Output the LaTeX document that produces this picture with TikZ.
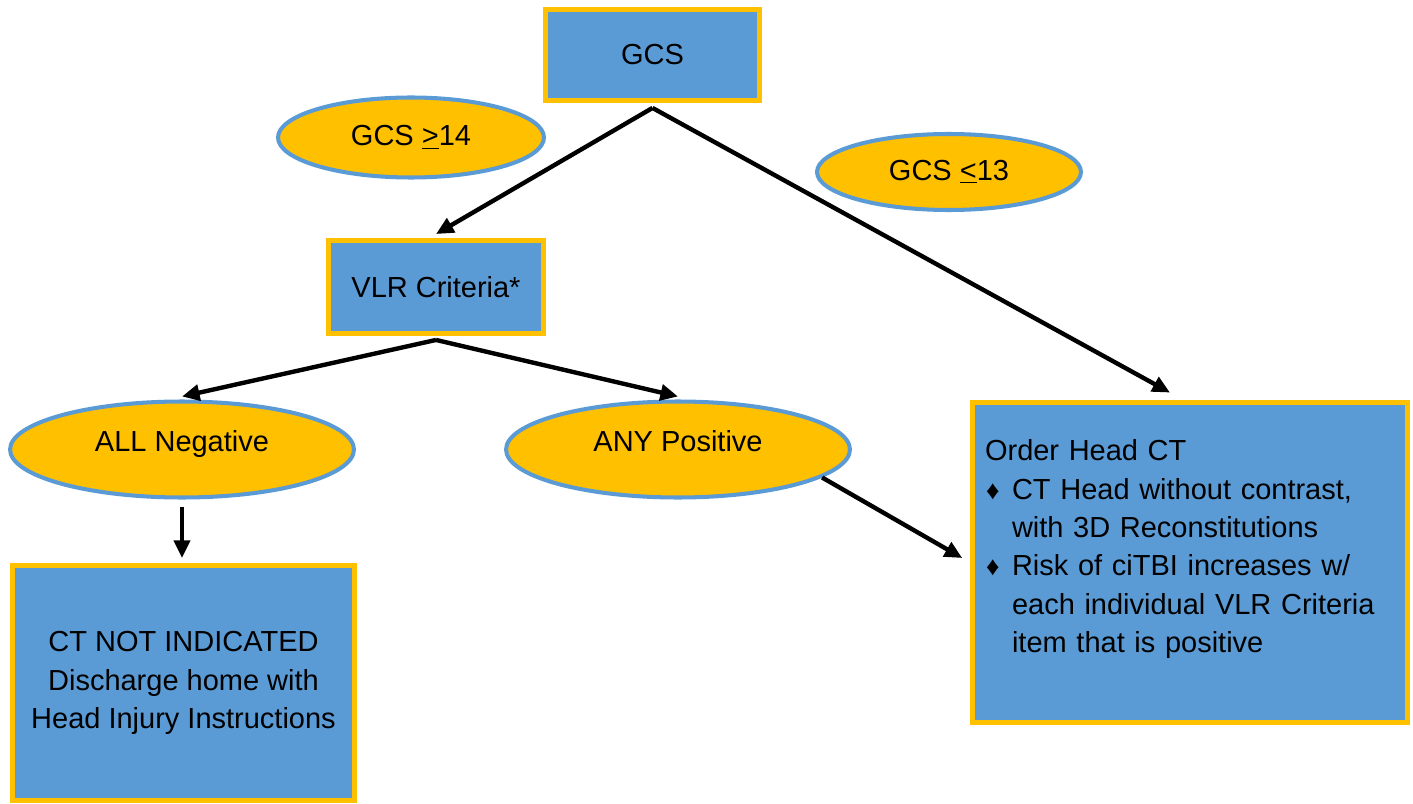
\documentclass[tikz,border=0pt]{standalone}
\usepackage{fontspec}
\setmainfont{Liberation Sans}
\usetikzlibrary{arrows.meta,shapes.geometric}
\definecolor{boxblue}{RGB}{91,155,213}
\definecolor{boxgold}{RGB}{255,192,0}
\newcommand{\orderbullet}{\makebox[0.54cm][l]{\hspace{0.02cm}{\fontsize{15}{15}\selectfont ♦}}}

\begin{document}
\begin{tikzpicture}[x=0.02cm,y=-0.02cm,
        criterion/.style={
        rectangle, draw=boxgold, line width=2.8pt, fill=boxblue,
        font=\fontsize{16.5}{21.8}\selectfont, align=center},
        branch/.style={
        ellipse, draw=boxblue, line width=2.3pt, fill=boxgold,
        minimum width=6.88cm, minimum height=1.92cm,
        font=\fontsize{16.5}{21.8}\selectfont},
        flow/.style={-{Triangle[length=10pt,width=9pt]}, line width=2.5pt}]
        \useasboundingbox (0,0) rectangle (1413,804);
        %boxes
        \node[criterion, minimum width=4.28cm, minimum height=1.82cm]
            (gcs) at (652.5,55) {GCS};
        \node[criterion, minimum width=4.3cm, minimum height=1.86cm]
            (vlr) at (436,287) {VLR Criteria*};
        \node[criterion, minimum width=6.84cm, minimum height=4.7cm]
            (ctnot) at (183.5,683)
            {CT NOT INDICATED\\Discharge home with\\Head Injury Instructions};
        \node[criterion, align=left, text width=8.2cm, inner xsep=0.25cm,
            minimum height=6.4cm] (order) at (1190,562.5)
            {Order Head CT\\
            \orderbullet CT Head without contrast,\\
            \hspace*{0.54cm}with 3D Reconstitutions\\
            \orderbullet Risk of ciTBI increases w/\\
            \hspace*{0.54cm}each individual VLR Criteria\\
            \hspace*{0.54cm}item that is positive\rule[-18.5pt]{0pt}{18.5pt}};
        %ellipses
        \node[branch, minimum width=5.32cm, minimum height=1.6cm]
            (ge14) at (411,137.5) {GCS \underline{>}14};
        \node[branch, minimum width=5.28cm, minimum height=1.52cm]
            (le13) at (949,172) {GCS \underline{<}13};
        \node[branch, text height=12pt, text depth=10pt]
            (allneg) at (182,449.5) {ALL Negative};
        \node[branch, text height=12pt, text depth=10pt]
            (anypos) at (678,449.5) {ANY Positive};
        %arrows
        \draw[flow] ([yshift=-0.1cm]gcs.south) -- ([yshift=0.08cm]vlr.north);
        \draw[flow] ([yshift=-0.1cm]gcs.south) --
            ([xshift=-0.4cm,yshift=0.15cm]order.north);
        \draw[flow] ([yshift=-0.08cm]vlr.south) -- ([yshift=0.06cm]allneg.north);
        \draw[flow] ([yshift=-0.08cm]vlr.south) -- ([yshift=0.06cm]anypos.north);
        \draw[flow, shorten <=0.14cm, shorten >=0.1cm]
            (allneg.south) -- (allneg.south |- ctnot.north);
        \draw[flow, shorten >=0.18cm] (anypos.-11) -- (order.west);
    \end{tikzpicture}
\end{document}
